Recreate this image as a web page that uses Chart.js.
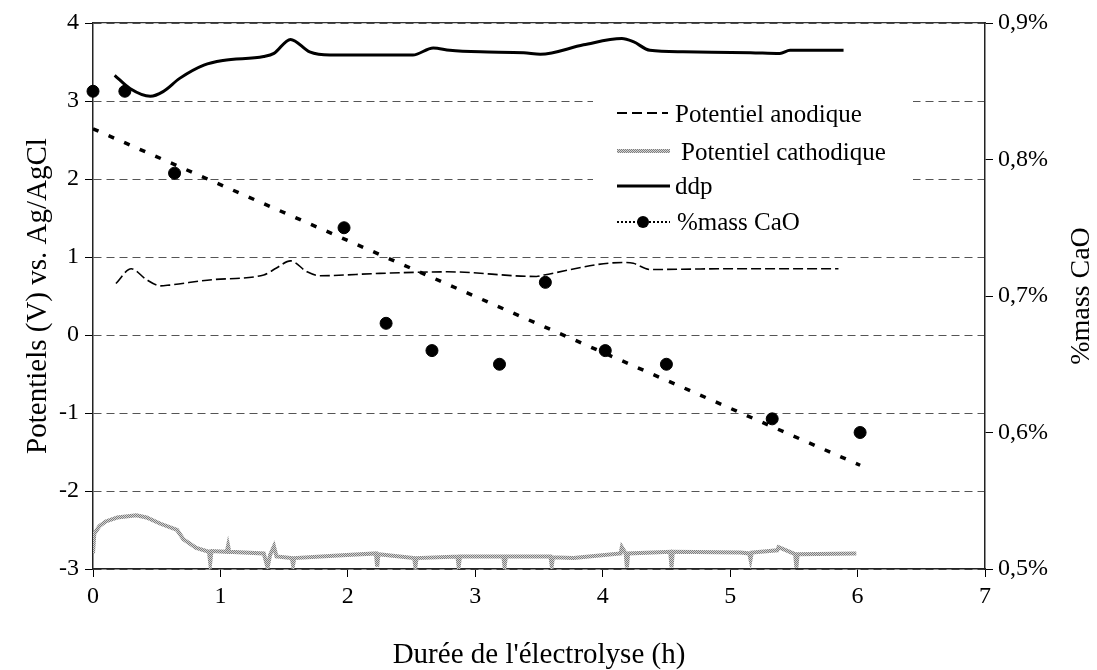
<!DOCTYPE html>
<html>
<head>
<meta charset="utf-8">
<script src="https://cdn.jsdelivr.net/npm/chart.js@4.4.0/dist/chart.umd.min.js"></script>
<style>
html, body { margin: 0; padding: 0; background: #fff; }
</style>
</head>
<body>
<canvas id="chart" width="1097" height="670"></canvas>
<script>
// ddp (solid black)
const ddpX = [0.17, 0.29, 0.45, 0.55, 0.68, 0.87, 1.02, 1.34, 1.42, 1.55, 1.70, 1.86, 2.51, 2.67, 2.80, 3.04, 3.38, 3.51, 3.85, 4.15, 4.24, 4.37, 4.63, 5.16, 5.39, 5.47, 5.89];
const ddpY = [3.33, 3.16, 3.06, 3.12, 3.29, 3.46, 3.52, 3.57, 3.61, 3.79, 3.63, 3.59, 3.59, 3.68, 3.65, 3.63, 3.62, 3.60, 3.72, 3.80, 3.76, 3.65, 3.63, 3.62, 3.61, 3.65, 3.65];

// Potentiel anodique (thin dashed)
const anoX = [0.18, 0.30, 0.42, 0.53, 0.60, 0.94, 1.34, 1.44, 1.55, 1.68, 1.78, 2.25, 2.78, 3.48, 3.54, 4.16, 4.24, 4.37, 5.03, 5.85];
const anoY = [0.66, 0.85, 0.71, 0.63, 0.64, 0.71, 0.77, 0.86, 0.95, 0.81, 0.76, 0.79, 0.81, 0.75, 0.77, 0.93, 0.92, 0.84, 0.85, 0.85];

// Potentiel cathodique (grey, noisy with spikes)
const cathX = [0, 0.01, 0.05, 0.10, 0.19, 0.34, 0.42, 0.53, 0.66, 0.71, 0.81, 0.91, 0.92, 0.93, 1.05, 1.06, 1.07, 1.34, 1.37, 1.39, 1.42, 1.44, 1.56, 1.57, 1.58, 1.99, 2.22, 2.23, 2.24, 2.52, 2.53, 2.54, 2.86, 2.87, 2.88, 3.22, 3.23, 3.24, 3.59, 3.60, 3.61, 3.77, 4.14, 4.15, 4.18, 4.19, 4.20, 4.53, 4.54, 4.55, 5.08, 5.15, 5.16, 5.17, 5.37, 5.38, 5.51, 5.52, 5.53, 5.99];
const cathY = [-2.80, -2.55, -2.45, -2.39, -2.34, -2.31, -2.34, -2.42, -2.50, -2.62, -2.73, -2.78, -2.92, -2.77, -2.78, -2.70, -2.78, -2.80, -2.98, -2.82, -2.71, -2.84, -2.86, -2.95, -2.86, -2.82, -2.80, -2.97, -2.81, -2.86, -2.97, -2.86, -2.84, -2.97, -2.84, -2.84, -2.97, -2.84, -2.84, -2.96, -2.85, -2.86, -2.80, -2.72, -2.80, -2.98, -2.80, -2.78, -2.98, -2.78, -2.79, -2.80, -2.88, -2.79, -2.76, -2.72, -2.81, -2.98, -2.81, -2.80];

// %mass CaO (right axis) and its linear trend
const caoX = [0, 0.25, 0.64, 1.97, 2.30, 2.66, 3.19, 3.55, 4.02, 4.50, 5.33, 6.02];
const caoY = [0.85, 0.85, 0.79, 0.75, 0.68, 0.66, 0.65, 0.71, 0.66, 0.65, 0.61, 0.60];
const trendX = [0, 6.02];
const trendY = [0.8225, 0.576];

const xTicks = [0, 1, 2, 3, 4, 5, 6, 7];
const yTicks = [-3, -2, -1, 0, 1, 2, 3, 4];
const y2Ticks = [0.5, 0.6, 0.7, 0.8, 0.9];

const pts = (xs, ys) => xs.map((x, i) => ({x: x, y: ys[i]}));

const FONT = '"Liberation Serif", "Times New Roman", serif';

// hatched grey pattern for the cathodic curve
function hatch() {
    const c = document.createElement('canvas');
    c.width = 2; c.height = 2;
    const g = c.getContext('2d');
    g.fillStyle = '#d4d4d4'; g.fillRect(0, 0, 2, 2);
    g.fillStyle = '#7e7e7e'; g.fillRect(0, 0, 1, 1); g.fillRect(1, 1, 1, 1);
    return g.createPattern(c, 'repeat');
}
const grey = hatch();

// legend drawn inside the plot, on a white box
const legendBox = {
    id: 'legendBox',
    afterDatasetsDraw(chart) {
        const ctx = chart.ctx;
        ctx.save();
        ctx.fillStyle = '#fff';
        ctx.fillRect(593, 94, 320, 140);
        ctx.font = '25px ' + FONT;
        ctx.fillStyle = '#000';
        ctx.textBaseline = 'alphabetic';

        ctx.strokeStyle = '#000';
        ctx.lineWidth = 2;
        ctx.setLineDash([10, 5]);
        ctx.beginPath(); ctx.moveTo(617, 113); ctx.lineTo(668, 113); ctx.stroke();
        ctx.fillText('Potentiel anodique', 675, 122);

        ctx.setLineDash([]);
        ctx.strokeStyle = grey;
        ctx.lineWidth = 4;
        ctx.beginPath(); ctx.moveTo(617, 151); ctx.lineTo(670, 151); ctx.stroke();
        ctx.fillText('Potentiel cathodique', 681, 160);

        ctx.strokeStyle = '#000';
        ctx.lineWidth = 3;
        ctx.beginPath(); ctx.moveTo(617, 186); ctx.lineTo(670, 186); ctx.stroke();
        ctx.fillText('ddp', 675, 194);

        ctx.lineWidth = 2;
        ctx.setLineDash([2, 2]);
        ctx.beginPath(); ctx.moveTo(617, 222); ctx.lineTo(670, 222); ctx.stroke();
        ctx.setLineDash([]);
        ctx.beginPath(); ctx.arc(643, 222, 6, 0, Math.PI * 2); ctx.fill();
        ctx.fillText('%mass CaO', 677, 230);
        ctx.restore();
    },
    afterDraw(chart) {
        const ctx = chart.ctx;
        ctx.save();
        ctx.font = '28px ' + FONT;
        ctx.fillStyle = '#000';
        ctx.textAlign = 'center';
        ctx.textBaseline = 'middle';
        ctx.translate(1082, (chart.chartArea.top + chart.chartArea.bottom) / 2);
        ctx.rotate(-Math.PI / 2);
        ctx.fillText('%mass CaO', 0, 0);
        ctx.restore();
    }
};

new Chart(document.getElementById('chart'), {
    type: 'line',
    data: {
        datasets: [
            {
                label: 'ddp',
                data: pts(ddpX, ddpY),
                borderColor: '#000',
                borderWidth: 3,
                pointRadius: 0,
                cubicInterpolationMode: 'monotone',
                yAxisID: 'y'
            },
            {
                label: 'Potentiel anodique',
                data: pts(anoX, anoY),
                borderColor: '#000',
                borderWidth: 1.6,
                borderDash: [10, 4],
                pointRadius: 0,
                cubicInterpolationMode: 'monotone',
                yAxisID: 'y'
            },
            {
                label: 'Potentiel cathodique',
                data: pts(cathX, cathY),
                borderColor: grey,
                borderWidth: 4,
                pointRadius: 0,
                tension: 0,
                yAxisID: 'y'
            },
            {
                label: 'tendance',
                data: pts(trendX, trendY),
                borderColor: '#000',
                borderWidth: 3.5,
                borderDash: [6, 11],
                pointRadius: 0,
                yAxisID: 'y2'
            },
            {
                label: '%mass CaO',
                data: pts(caoX, caoY),
                showLine: false,
                pointRadius: 6,
                pointBackgroundColor: '#000',
                pointBorderColor: '#000',
                clip: false,
                yAxisID: 'y2'
            }
        ]
    },
    options: {
        responsive: false,
        animation: false,
        layout: { padding: 0 },
        plugins: {
            legend: { display: false },
            tooltip: { enabled: false }
        },
        scales: {
            x: {
                type: 'linear',
                position: 'bottom',
                min: 0, max: 7,
                afterFit: s => { s.height = 101; },
                afterBuildTicks: s => { s.ticks = xTicks.map(v => ({value: v})); },
                ticks: { font: { family: FONT, size: 24 }, color: '#000', padding: 5 },
                grid: { drawOnChartArea: false, tickLength: 8, tickColor: '#000', tickWidth: 1 },
                border: { color: '#222', width: 1.5 },
                title: {
                    display: true,
                    text: "Durée de l'électrolyse (h)",
                    font: { family: FONT, size: 29, lineHeight: 1 },
                    color: '#000',
                    padding: { top: 0, bottom: 0 }
                }
            },
            xTop: {
                type: 'linear',
                position: 'top',
                min: 0, max: 7,
                afterFit: s => { s.height = 23; },
                ticks: { display: false },
                grid: { drawOnChartArea: false, drawTicks: false },
                border: { color: '#333', width: 1.2 }
            },
            y: {
                type: 'linear',
                position: 'left',
                min: -3, max: 4,
                afterFit: s => { s.width = 93; },
                afterBuildTicks: s => { s.ticks = yTicks.map(v => ({value: v})); },
                ticks: { font: { family: FONT, size: 24 }, color: '#000', padding: 6 },
                grid: { color: '#555', lineWidth: 1, tickLength: 8, tickColor: '#000', tickBorderDash: [] },
                border: { color: '#222', width: 1.5, dash: [8, 5] },
                title: {
                    display: true,
                    text: 'Potentiels (V) vs. Ag/AgCl',
                    font: { family: FONT, size: 29 },
                    color: '#000',
                    padding: { top: 21, bottom: 0 }
                }
            },
            y2: {
                type: 'linear',
                position: 'right',
                min: 0.5, max: 0.9,
                afterFit: s => { s.width = 112; },
                afterBuildTicks: s => { s.ticks = y2Ticks.map(v => ({value: v})); },
                ticks: {
                    font: { family: FONT, size: 24 },
                    color: '#000',
                    padding: 5,
                    callback: v => v.toFixed(1).replace('.', ',') + '%'
                },
                grid: { drawOnChartArea: false, tickLength: 8, tickColor: '#000' },
                border: { color: '#222', width: 1.5 }
            }
        }
    },
    plugins: [legendBox]
});
</script>
</body>
</html>
